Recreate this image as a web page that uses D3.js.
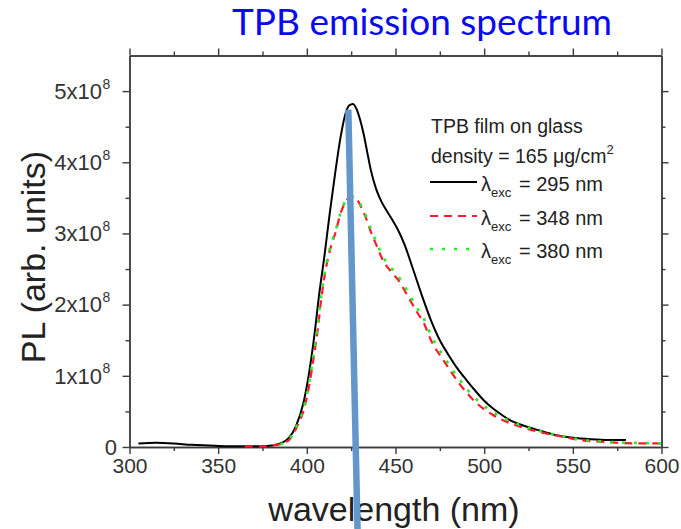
<!DOCTYPE html>
<html>
<head>
<meta charset="utf-8">
<script src="https://cdn.jsdelivr.net/npm/d3@7"></script>
<style>
  body { margin: 0; background: #fff; }
  svg { display: block; }
</style>
</head>
<body>
<svg id="chart" width="681" height="529"></svg>
<script>
// Photoluminescence of a TPB film on glass, PL in units of 1e8 (arb. units)
const wl295 = [305, 315, 325, 335, 345, 355, 365, 375, 380, 385, 390, 394, 398, 401, 404, 407, 410, 413, 416, 419, 422, 424, 426, 428, 430, 432, 434, 436, 439, 442, 445, 448, 451, 455, 460, 465, 470, 475, 480, 485, 490, 495, 500, 505, 510, 515, 520, 530, 540, 550, 560, 570, 580];
const pl295 = [0.05, 0.06, 0.05, 0.03, 0.02, 0.01, 0.01, 0.01, 0.02, 0.05, 0.13, 0.30, 0.61, 1.00, 1.52, 2.15, 2.70, 3.30, 3.85, 4.35, 4.70, 4.80, 4.82, 4.75, 4.60, 4.40, 4.15, 3.90, 3.63, 3.45, 3.32, 3.20, 3.07, 2.85, 2.49, 2.12, 1.78, 1.50, 1.29, 1.10, 0.94, 0.79, 0.65, 0.54, 0.45, 0.37, 0.32, 0.24, 0.17, 0.13, 0.11, 0.10, 0.10];

const wl348 = [365, 370, 375, 380, 385, 390, 394, 398, 401, 403.5, 406, 408, 410, 412, 414, 416, 419, 422, 425, 427, 429, 431, 433, 436, 439, 443, 448, 452, 456, 462, 466, 470, 477, 486, 496, 505, 515, 525, 535, 545, 555, 565, 575, 590, 600];
const pl348 = [0.01, 0.01, 0.01, 0.02, 0.04, 0.10, 0.26, 0.50, 0.82, 1.20, 1.62, 2.05, 2.40, 2.66, 2.85, 3.00, 3.28, 3.45, 3.52, 3.50, 3.45, 3.35, 3.24, 3.03, 2.85, 2.62, 2.45, 2.33, 2.16, 1.90, 1.74, 1.50, 1.22, 0.89, 0.61, 0.45, 0.33, 0.25, 0.19, 0.14, 0.095, 0.075, 0.06, 0.05, 0.05];

const wl380 = [385, 390, 394, 398, 401, 403.5, 406, 408, 410, 412, 414, 416, 419, 422, 425, 427, 429, 431, 433, 436, 439, 443, 448, 452, 456, 462, 466, 470, 477, 486, 496, 505, 515, 525, 535, 545, 555, 565, 575, 590, 600];
const pl380 = [0.04, 0.11, 0.28, 0.53, 0.86, 1.25, 1.67, 2.10, 2.44, 2.69, 2.88, 3.02, 3.29, 3.46, 3.52, 3.50, 3.46, 3.37, 3.27, 3.07, 2.89, 2.67, 2.50, 2.38, 2.22, 1.96, 1.80, 1.57, 1.28, 0.95, 0.66, 0.49, 0.36, 0.27, 0.20, 0.15, 0.10, 0.08, 0.065, 0.055, 0.05];

const xMajor = [300, 350, 400, 450, 500, 550, 600];
const xMinor = [325, 375, 425, 475, 525, 575];
const yMajor = [0, 1, 2, 3, 4, 5];
const yMinor = [0.5, 1.5, 2.5, 3.5, 4.5];
const yExponent = "8";

const legendNote = ["TPB film on glass", "density = 165 \u03BCg/cm", "2"];
const legendNames = ["= 295 nm", "= 348 nm", "= 380 nm"];

// guide line marking the emission peak
const peakGuide = [{ wl: 423.4, pl: 4.74 }, { wl: 428.6, pl: -1.16 }];

const svg = d3.select("#chart");
const axisColor = "#3a3a3a";
const labelColor = "#333";
const sans = "Arial, 'Liberation Sans', sans-serif";

const x = d3.scaleLinear().domain([300, 600]).range([129.5, 661.5]);
const y = d3.scaleLinear().domain([0, 5.5]).range([447, 55.5]);

// title
svg.append("text")
  .attr("x", 422).attr("y", 35)
  .attr("text-anchor", "middle")
  .attr("font-family", "Lato, 'Open Sans', sans-serif")
  .attr("font-size", 37)
  .attr("fill", "#0a0aee")
  .text("TPB emission spectrum");

function styleAxis(g) {
  g.selectAll("path, line").attr("stroke", axisColor).attr("stroke-width", 1.4);
  g.selectAll("text").attr("font-family", sans)
    .attr("font-size", 21).attr("fill", labelColor);
}

// bottom axis with labels
svg.append("g").attr("transform", `translate(0,${y(0)})`)
  .call(d3.axisBottom(x).tickValues(xMajor).tickSize(7).tickSizeOuter(0).tickPadding(4).tickFormat(d3.format("d")))
  .call(styleAxis);
svg.append("g").attr("transform", `translate(0,${y(0)})`)
  .call(d3.axisBottom(x).tickValues(xMinor).tickSize(4).tickSizeOuter(0).tickFormat(""))
  .call(styleAxis);
// top mirror axis
svg.append("g").attr("transform", `translate(0,${y(5.5)})`)
  .call(d3.axisTop(x).tickValues(xMajor).tickSize(7).tickSizeOuter(0).tickFormat(""))
  .call(styleAxis);
svg.append("g").attr("transform", `translate(0,${y(5.5)})`)
  .call(d3.axisTop(x).tickValues(xMinor).tickSize(4).tickSizeOuter(0).tickFormat(""))
  .call(styleAxis);
// left axis
svg.append("g").attr("transform", `translate(${x(300)},0)`)
  .call(d3.axisLeft(y).tickValues(yMajor).tickSize(7).tickSizeOuter(0).tickFormat(""))
  .call(styleAxis);
svg.append("g").attr("transform", `translate(${x(300)},0)`)
  .call(d3.axisLeft(y).tickValues(yMinor).tickSize(4).tickSizeOuter(0).tickFormat(""))
  .call(styleAxis);
// right mirror axis
svg.append("g").attr("transform", `translate(${x(600)},0)`)
  .call(d3.axisRight(y).tickValues(yMajor).tickSize(7).tickSizeOuter(0).tickFormat(""))
  .call(styleAxis);
svg.append("g").attr("transform", `translate(${x(600)},0)`)
  .call(d3.axisRight(y).tickValues(yMinor).tickSize(4).tickSizeOuter(0).tickFormat(""))
  .call(styleAxis);

// y tick labels in the form Nx10^8
const yl = svg.append("g")
  .attr("font-family", sans)
  .attr("fill", labelColor);
yMajor.forEach(v => {
  const t = yl.append("text")
    .attr("x", v === 0 ? 117 : 102)
    .attr("y", y(v) + 7.8)
    .attr("text-anchor", "end")
    .attr("font-size", 22);
  if (v === 0) {
    t.text("0");
  } else {
    t.text(`${v}x10`);
    yl.append("text")
      .attr("x", 102.5).attr("y", y(v) - 2.5)
      .attr("font-size", 14)
      .text(yExponent);
  }
});

// axis titles
svg.append("text")
  .attr("transform", `translate(45,257) rotate(-90)`)
  .attr("text-anchor", "middle")
  .attr("font-family", sans)
  .attr("font-size", 34).attr("fill", "#222")
  .text("PL (arb. units)");
svg.append("text")
  .attr("x", 394).attr("y", 521)
  .attr("text-anchor", "middle")
  .attr("font-family", sans)
  .attr("font-size", 34).attr("fill", "#222")
  .text("wavelength (nm)");

// spectra
const line = d3.line().x(d => x(d[0])).y(d => y(d[1])).curve(d3.curveMonotoneX);
const series = [
  { wl: wl295, pl: pl295, color: "#000", dash: null, width: 2 },
  { wl: wl348, pl: pl348, color: "#ff1a2e", dash: "8,6", width: 2.2 },
  { wl: wl380, pl: pl380, color: "#22ee22", dash: "3,9", width: 2.6 }
];
series.forEach(s => {
  svg.append("path")
    .datum(d3.zip(s.wl, s.pl))
    .attr("d", line)
    .attr("fill", "none")
    .attr("stroke", s.color)
    .attr("stroke-width", s.width)
    .attr("stroke-dasharray", s.dash);
});

// legend
const lg = svg.append("g")
  .attr("font-family", sans)
  .attr("fill", "#222");
lg.append("text").attr("x", 431).attr("y", 133).attr("font-size", 19.5).text(legendNote[0]);
const dens = lg.append("text").attr("x", 431).attr("y", 163).attr("font-size", 19.5);
dens.append("tspan").text(legendNote[1]);
dens.append("tspan").attr("dy", -9).attr("font-size", 13).text(legendNote[2]);
const rowY = [191, 225, 258];
series.forEach((s, i) => {
  lg.append("line")
    .attr("x1", 430).attr("x2", 477)
    .attr("y1", rowY[i] - 9).attr("y2", rowY[i] - 9)
    .attr("stroke", s.color).attr("stroke-width", s.width)
    .attr("stroke-dasharray", s.dash);
  lg.append("text").attr("x", 481).attr("y", rowY[i]).attr("font-size", 20).text("\u03BB");
  lg.append("text").attr("x", 491).attr("y", rowY[i] + 6).attr("font-size", 13).text("exc");
  lg.append("text").attr("x", 519).attr("y", rowY[i]).attr("font-size", 20).text(legendNames[i]);
});

// peak guide
svg.append("line")
  .attr("x1", x(peakGuide[0].wl)).attr("y1", y(peakGuide[0].pl))
  .attr("x2", x(peakGuide[1].wl)).attr("y2", y(peakGuide[1].pl))
  .attr("stroke", "#6396cb").attr("stroke-width", 6.5);
</script>
</body>
</html>
